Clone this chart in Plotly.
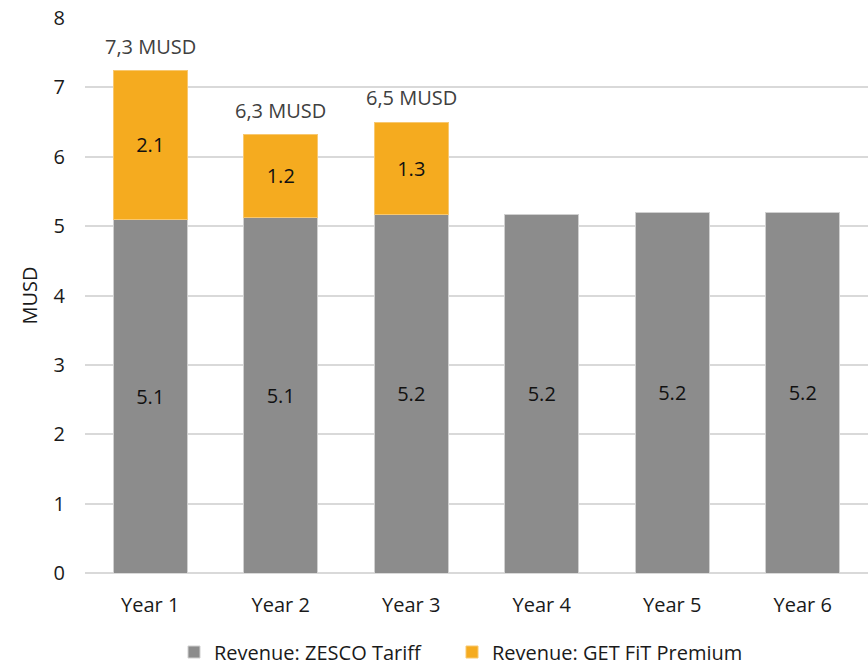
import plotly.graph_objects as go

years = ["Year 1", "Year 2", "Year 3", "Year 4", "Year 5", "Year 6"]
zesco = [5.10, 5.13, 5.17, 5.17, 5.20, 5.20]
premium = [2.14, 1.19, 1.33, None, None, None]
total_labels = ["7,3 MUSD", "6,3 MUSD", "6,5 MUSD"]

FONT = "Open Sans"
GRAY = "#8c8c8c"
ORANGE = "#f5ab1f"
FS = 20

fig = go.Figure()
fig.add_trace(go.Bar(
    x=years, y=zesco, name="Revenue: ZESCO Tariff", legend="legend",
    marker=dict(color=GRAY, line=dict(color="#d0d0d0", width=1)),
    text=[f"{v:.1f}" for v in zesco], textposition="inside",
    insidetextanchor="middle", textangle=0,
    textfont=dict(family=FONT, size=FS, color="#111111"),
))
fig.add_trace(go.Bar(
    x=years, y=premium, name="Revenue: GET FiT Premium", legend="legend2",
    marker=dict(color=ORANGE, line=dict(color="#f8c870", width=1)),
    text=[f"{v:.1f}" if v is not None else "" for v in premium], textposition="inside",
    insidetextanchor="middle", textangle=0,
    textfont=dict(family=FONT, size=FS, color="#111111"),
))

for i, lab in enumerate(total_labels):
    fig.add_annotation(
        x=years[i], y=zesco[i] + premium[i], text=lab, showarrow=False,
        yanchor="bottom", yshift=9,
        font=dict(family=FONT, size=FS, color="#404040"),
    )

leg_common = dict(orientation="h", xanchor="left", xref="container",
                  yref="container", y=0.021, yanchor="middle",
                  font=dict(family=FONT, size=FS, color="#1a1a1a"),
                  bgcolor="rgba(0,0,0,0)")

fig.update_layout(
    width=868, height=666,
    barmode="stack", bargap=0.43,
    plot_bgcolor="white", paper_bgcolor="white",
    margin=dict(l=85, r=0, t=18, b=93),
    font=dict(family=FONT, size=FS, color="#1a1a1a"),
    showlegend=True,
    legend=dict(x=174 / 868, **leg_common),
    legend2=dict(x=452 / 868, **leg_common),
    uniformtext=dict(mode=False),
)
fig.update_xaxes(range=[-0.5, 5.5], showline=False, ticks="", showgrid=False,
                 ticklabelstandoff=18, automargin=False,
                 tickfont=dict(family=FONT, size=FS, color="#1a1a1a"))
fig.update_yaxes(range=[0, 8], dtick=1, showgrid=True, gridcolor="#d9d9d9", gridwidth=1.5,
                 zeroline=True, zerolinecolor="#d9d9d9", zerolinewidth=1.5,
                 showline=False, ticks="", ticklen=0, ticklabelstandoff=19, automargin=False,
                 tickfont=dict(family=FONT, size=FS, color="#1a1a1a"),
                 title=dict(text="MUSD", font=dict(family=FONT, size=FS, color="#1a1a1a"), standoff=10))

fig.write_html("out.html")
